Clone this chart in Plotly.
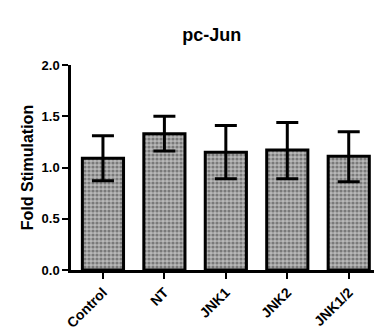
import plotly.graph_objects as go

categories = ["Control", "NT", "JNK1", "JNK2", "JNK1/2"]
values = [1.09, 1.33, 1.15, 1.17, 1.11]
err_plus = [0.22, 0.17, 0.26, 0.27, 0.24]
err_minus = [0.22, 0.17, 0.26, 0.28, 0.25]
y_ticks = [0.0, 0.5, 1.0, 1.5, 2.0]
y_tick_labels = ["0.0", "0.5", "1.0", "1.5", "2.0"]

font_family = "Liberation Sans, Arial, sans-serif"

fig = go.Figure()
fig.add_trace(go.Bar(
    x=categories,
    y=values,
    width=0.67,
    marker=dict(
        color="#b0b0b0",
        line=dict(color="black", width=3),
        pattern=dict(shape=".", size=4, solidity=0.5, fgcolor="#3a3a3a", bgcolor="#b8b8b8"),
    ),
    error_y=dict(
        type="data",
        symmetric=False,
        array=err_plus,
        arrayminus=err_minus,
        color="black",
        thickness=3,
        width=11,
    ),
))

# page body adds an 8px offset; figure is sized/margined to compensate
fig.update_layout(
    width=374,
    height=324,
    margin=dict(l=63, r=5, t=57, b=62, autoexpand=False),
    plot_bgcolor="white",
    paper_bgcolor="white",
    showlegend=False,
    title=dict(
        text="<b>pc-Jun</b>",
        x=0.545,
        xanchor="center",
        y=0.917,
        yanchor="middle",
        font=dict(family=font_family, size=18, color="black"),
    ),
    font=dict(family=font_family, color="black"),
)

fig.update_xaxes(
    type="category",
    range=[-0.52, 4.46],
    showline=True,
    linecolor="black",
    linewidth=2.5,
    ticks="outside",
    ticklen=6,
    tickwidth=2,
    tickcolor="black",
    tickangle=-45,
    tickfont=dict(family=font_family, size=14, color="black", weight="bold"),
    showgrid=False,
    automargin=False,
)

fig.update_yaxes(
    range=[0, 2.0],
    tickvals=y_ticks,
    ticktext=y_tick_labels,
    showline=True,
    linecolor="black",
    linewidth=2.5,
    ticks="outside",
    ticklen=6,
    tickwidth=2,
    tickcolor="black",
    tickfont=dict(family=font_family, size=13, color="black", weight="bold"),
    showgrid=False,
    zeroline=False,
    automargin=False,
    title=dict(text="<b>Fold Stimulation</b>", font=dict(family=font_family, size=16, color="black"), standoff=4),
)

fig.write_html("out.html")
